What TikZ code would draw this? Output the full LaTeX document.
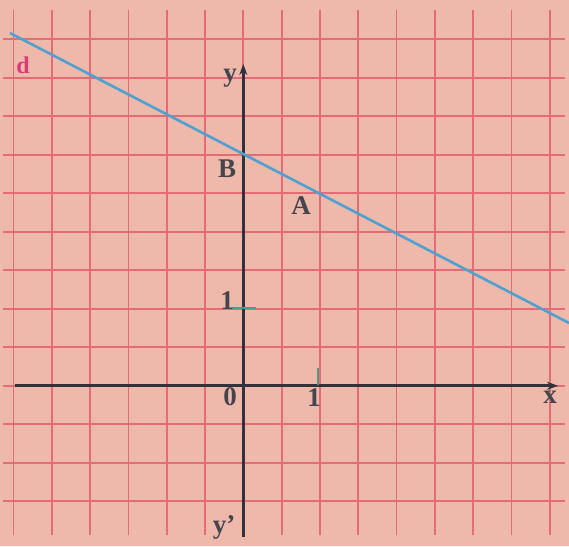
\documentclass[tikz,border=0pt]{standalone}
\usepackage{fontspec}
\setmainfont{Liberation Serif}
\usetikzlibrary{arrows.meta}
\definecolor{paper}{RGB}{238,184,170}
\definecolor{gridred}{RGB}{228,108,118}
\definecolor{lineblue}{RGB}{80,160,210}
\definecolor{axisdark}{RGB}{50,50,58}
\definecolor{labelgray}{RGB}{68,70,78}
\definecolor{dpink}{RGB}{215,60,120}
\definecolor{tickgreen}{RGB}{60,165,140}
\begin{document}
\begin{tikzpicture}[x=1pt,y=-1pt,
  lbl/.style={font=\fontsize{27}{27}\selectfont\bfseries, text=labelgray, inner sep=0pt},
  gridline/.style={gridred, line width=1.8pt},
  axisline/.style={axisdark, line width=2.8pt, -{Stealth[length=11pt,width=8pt]}}]
\fill[paper] (0,0) rectangle (569,546);
\useasboundingbox (0,0) rectangle (569,546);
\foreach \k in {0,...,14} \draw[gridline] ({13.5+38.3*\k},10) -- ({13.5+38.3*\k},535);
\foreach \k in {0,...,12} \draw[gridline] (3,{39.3+38.5*\k}) -- (565,{39.3+38.5*\k});
% axes
\coordinate (xs) at (15,385.8);
\coordinate (xe) at (558,385.8);
\coordinate (ys) at (243.3,537);
\coordinate (ye) at (243.3,64);
\draw[axisline] (xs) -- (xe);
\draw[axisline] (ys) -- (ye);
% ticks
\coordinate (t1a) at (231,308);
\coordinate (t1b) at (256,308);
\draw[tickgreen, line width=1.8pt] (t1a) -- (t1b);
\coordinate (t2a) at (318,368);
\coordinate (t2b) at (318,385);
\draw[tickgreen!60!gray, line width=1.6pt] (t2a) -- (t2b);
% line d
\coordinate (d1) at (10,33);
\coordinate (d2) at (569,323);
\draw[lineblue, line width=2.6pt] (d1) -- (d2);
% labels
\node[lbl] (ly) at (230,78) {y};
\node[lbl] (lB) at (227,169) {B};
\node[lbl] (lA) at (301,206) {A};
\node[lbl] (l1y) at (227,301) {1};
\node[lbl] (l0) at (230,397) {0};
\node[lbl] (l1x) at (314,398) {1};
\node[lbl] (lx) at (550,397) {x};
\node[lbl] (lyp) at (224,527) {y’};
\node[lbl, text=dpink, font=\fontsize{24}{24}\selectfont\bfseries] (ld) at (23,65) {d};
\end{tikzpicture}
\end{document}
